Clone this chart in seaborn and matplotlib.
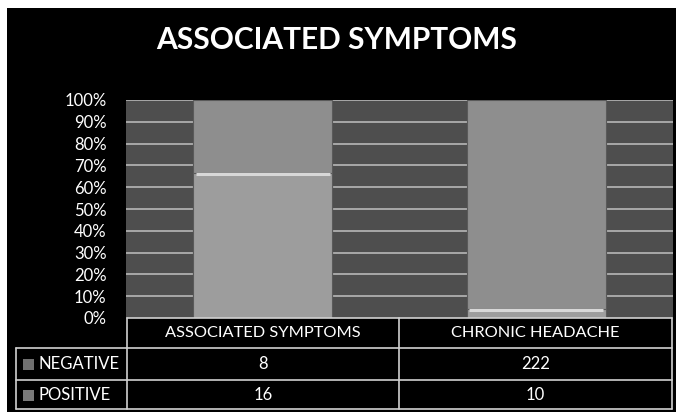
import numpy as np
import pandas as pd
import matplotlib
matplotlib.use("Agg")
import matplotlib.pyplot as plt
import seaborn as sns
from matplotlib.patches import Rectangle
from matplotlib.lines import Line2D

# ---------------------------------------------------------
# Data
# ---------------------------------------------------------
categories = ["ASSOCIATED SYMPTOMS", "CHRONIC HEADACHE"]
negative = [8, 222]
positive = [16, 10]
series_names = ["NEGATIVE", "POSITIVE"]
y_ticks = [0, 10, 20, 30, 40, 50, 60, 70, 80, 90, 100]

df = pd.DataFrame({"category": categories, "negative": negative, "positive": positive})
df["total"] = df["negative"] + df["positive"]
df["pos_pct"] = df["positive"] / df["total"] * 100
df["all_pct"] = 100.0

neg_color = "#8e8e8e"
pos_color = "#9d9d9d"

sns.set_style("dark")
plt.rcParams["font.family"] = ["Lato", "DejaVu Sans"]

W, H = 677, 412
fig = plt.figure(figsize=(W / 100, H / 100), dpi=100, facecolor="white")

# black chart frame
fig.patches.append(Rectangle((7 / W, 0), (676 - 7) / W, (412 - 8) / H,
                             transform=fig.transFigure, facecolor="black",
                             edgecolor="none", zorder=-10))

# ---------------------------------------------------------
# Plot area
# ---------------------------------------------------------
left, right, top, bottom = 126, 673, 100, 318
ax = fig.add_axes([left / W, 1 - bottom / H, (right - left) / W, (bottom - top) / H])
ax.set_facecolor("#4e4e4e")

sns.barplot(data=df, x="category", y="all_pct", color=neg_color, width=0.51,
            saturation=1, ax=ax, zorder=3, edgecolor="#5a5a5a", linewidth=0.8)
sns.barplot(data=df, x="category", y="pos_pct", color=pos_color, width=0.51,
            saturation=1, ax=ax, zorder=4, edgecolor="#5a5a5a", linewidth=0.8)

# light highlight on top of the positive segment
for i, v in enumerate(df["pos_pct"]):
    ax.hlines(v - 0.6, i - 0.245, i + 0.245, color="#d8d8d8", lw=2.2, zorder=5)

ax.set_ylim(0, 100)
ax.set_xlim(-0.5, 1.5)
ax.set_yticks(y_ticks)
ax.set_yticklabels([f"{t}%" for t in y_ticks], color="white", fontsize=12)
ax.tick_params(axis="y", length=0, pad=14)
ax.set_xticks([])
ax.set_xlabel("")
ax.set_ylabel("")
ax.grid(False)
for t in y_ticks[1:]:
    ax.axhline(t, color="#c0c0c0", lw=1.1, zorder=1)
for s in ax.spines.values():
    s.set_visible(False)

# title
fig.text(337 / W, 1 - 40 / H, "ASSOCIATED SYMPTOMS", ha="center", va="center",
         color="white", fontsize=21.5, fontweight="bold")

# ---------------------------------------------------------
# Data table under the chart
# ---------------------------------------------------------
tab = fig.add_axes([0, 0, 1, 1], facecolor="none")
tab.set_xlim(0, W)
tab.set_ylim(H, 0)
tab.axis("off")

col_x = [16, 127, 399, 672]
row_y = [318, 348, 380, 409]
lc = "#d0d0d0"

# horizontal lines
tab.add_line(Line2D([col_x[1], col_x[3]], [row_y[0], row_y[0]], color=lc, lw=1.2))
for y in row_y[1:]:
    tab.add_line(Line2D([col_x[0], col_x[3]], [y, y], color=lc, lw=1.2))
# vertical lines
tab.add_line(Line2D([col_x[0], col_x[0]], [row_y[1], row_y[3]], color=lc, lw=1.2))
for x in col_x[1:]:
    tab.add_line(Line2D([x, x], [row_y[0], row_y[3]], color=lc, lw=1.2))

for j, cat in enumerate(categories):
    cx = (col_x[j + 1] + col_x[j + 2]) / 2
    tab.text(cx, (row_y[0] + row_y[1]) / 2, cat, ha="center", va="center",
             color="white", fontsize=11.8)
    tab.text(cx, (row_y[1] + row_y[2]) / 2, str(negative[j]), ha="center",
             va="center", color="white", fontsize=12)
    tab.text(cx, (row_y[2] + row_y[3]) / 2, str(positive[j]), ha="center",
             va="center", color="white", fontsize=12)

key_colors = ["#707070", "#7a7a7a"]
for i, name in enumerate(series_names):
    cy = (row_y[i + 1] + row_y[i + 2]) / 2
    tab.add_patch(Rectangle((23, cy - 5), 11, 11, facecolor=key_colors[i],
                            edgecolor="none"))
    tab.text(39, cy, name, ha="left", va="center", color="white", fontsize=12)

fig.savefig("out.png", dpi=100, facecolor="white")
